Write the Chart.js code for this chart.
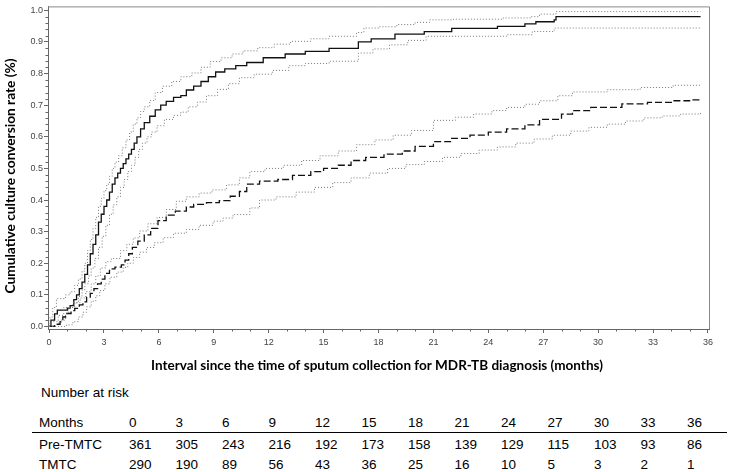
<!DOCTYPE html>
<html>
<head>
<meta charset="utf-8">
<script src="https://cdn.jsdelivr.net/npm/chart.js@4/dist/chart.umd.min.js"></script>
<style>
  html, body { margin: 0; padding: 0; background: #fff; }
  #wrap { position: relative; width: 730px; height: 472px; overflow: hidden; }
  #c { position: absolute; left: 0; top: 0; }
  .t { position: absolute; font-family: "Liberation Sans", Arial, sans-serif; font-size: 13.5px; color: #000; white-space: nowrap; line-height: 1; }
  #rule { position: absolute; left: 32px; width: 695px; top: 432px; height: 0; border-top: 1.5px solid #000; }
</style>
</head>
<body>
<div id="wrap">
  <canvas id="c" width="730" height="375"></canvas>
  <div id="table"></div>
  <div id="rule"></div>
</div>
<script>
// ---------- data ----------
const xTicks = [0, 3, 6, 9, 12, 15, 18, 21, 24, 27, 30, 33, 36];
const yTicks = [0, 0.1, 0.2, 0.3, 0.4, 0.5, 0.6, 0.7, 0.8, 0.9, 1.0];

const preTime = [0,0.1,0.3,0.45,1.0,1.15,1.35,1.5,1.65,1.8,1.95,2.1,2.25,2.4,2.55,2.7,2.85,3.0,3.15,3.3,3.45,3.6,3.75,3.9,4.05,4.2,4.35,4.5,4.65,4.8,5.0,5.2,5.5,5.8,6.1,6.4,6.8,7.2,7.5,7.9,8.3,8.7,9.1,9.6,10.2,10.8,11.7,12.9,14.0,15.3,16.9,17.6,18.9,20.5,22.0,24.5,26.0,26.6,27.6,27.7,35.6];
const preRate = [0,0.02,0.04,0.052,0.058,0.066,0.085,0.1,0.12,0.14,0.165,0.195,0.23,0.26,0.29,0.33,0.355,0.38,0.4,0.425,0.45,0.47,0.485,0.5,0.515,0.53,0.545,0.56,0.58,0.6,0.625,0.645,0.665,0.685,0.7,0.712,0.725,0.73,0.748,0.76,0.775,0.79,0.805,0.815,0.825,0.835,0.85,0.862,0.87,0.88,0.9,0.91,0.925,0.933,0.943,0.949,0.957,0.964,0.97,0.98,0.98];

const preUpTime = [0,0.05,0.2,0.4,0.9,1.15,1.4,1.6,1.8,1.95,2.1,2.25,2.4,2.55,2.7,2.85,3.0,3.15,3.3,3.45,3.6,3.8,4.0,4.2,4.4,4.6,4.8,5.0,5.2,5.5,5.8,6.2,6.7,7.2,7.8,8.3,8.8,9.4,10.0,10.6,11.4,12.3,13.2,14.3,15.3,16.8,17.2,18.0,19.0,20.0,20.8,22.1,24.8,26.3,26.8,27.7,35.6];
const preUpRate = [0,0.03,0.06,0.088,0.1,0.11,0.13,0.15,0.175,0.2,0.24,0.275,0.31,0.345,0.38,0.405,0.43,0.45,0.475,0.5,0.52,0.54,0.565,0.59,0.615,0.64,0.66,0.68,0.695,0.715,0.74,0.76,0.775,0.79,0.802,0.82,0.838,0.85,0.862,0.872,0.882,0.893,0.902,0.91,0.918,0.93,0.944,0.948,0.955,0.962,0.97,0.972,0.976,0.98,0.988,0.996,0.996];

const preLoTime = [0,0.4,0.6,0.9,1.05,1.4,1.6,1.8,1.95,2.15,2.3,2.5,2.7,2.9,3.1,3.3,3.5,3.7,3.9,4.1,4.3,4.5,4.7,4.9,5.1,5.35,5.6,5.9,6.3,6.8,7.2,7.6,8.1,8.6,9.2,9.8,10.4,11.2,12.2,13.1,14.0,15.3,16.9,17.7,18.6,19.6,20.6,22.1,25.0,26.4,27.6,35.6];
const preLoRate = [0,0.01,0.02,0.04,0.06,0.075,0.095,0.115,0.135,0.16,0.185,0.215,0.25,0.285,0.32,0.355,0.385,0.41,0.44,0.465,0.49,0.51,0.535,0.56,0.58,0.6,0.615,0.635,0.655,0.668,0.678,0.695,0.71,0.73,0.75,0.768,0.787,0.798,0.81,0.825,0.832,0.839,0.865,0.878,0.891,0.905,0.918,0.918,0.923,0.933,0.944,0.944];

const tmtcTime = [0,0.3,0.6,0.75,0.9,1.2,1.4,1.65,1.85,2.05,2.25,2.45,2.65,2.85,3.05,3.3,3.6,3.95,4.15,4.35,4.55,4.85,5.2,5.55,5.95,6.4,6.9,7.5,7.9,8.6,9.3,9.9,10.4,10.8,11.5,12.5,13.3,14.3,15.0,15.8,16.5,17.3,18.3,19.3,20.0,21.0,22.0,23.0,24.0,25.0,26.0,26.8,28.0,28.6,29.6,31.3,32.7,34.0,35.0,35.6];
const tmtcRate = [0,0.007,0.015,0.03,0.041,0.05,0.057,0.068,0.078,0.093,0.105,0.12,0.135,0.15,0.168,0.182,0.188,0.195,0.21,0.23,0.25,0.27,0.29,0.31,0.335,0.352,0.365,0.378,0.386,0.392,0.398,0.412,0.427,0.45,0.46,0.465,0.478,0.49,0.5,0.51,0.525,0.535,0.545,0.555,0.57,0.585,0.595,0.605,0.615,0.625,0.638,0.655,0.672,0.683,0.693,0.704,0.709,0.714,0.717,0.717];

const tmtcUpTime = [0,0.1,0.5,0.8,1.3,1.7,2.0,2.3,2.55,2.8,3.1,3.4,3.9,4.25,4.6,4.95,5.4,5.9,6.4,6.95,7.5,8.2,8.9,9.7,10.4,10.97,11.8,12.8,13.8,14.8,15.8,16.8,17.8,18.8,19.8,21.0,22.2,23.2,24.2,25.0,26.0,26.8,27.8,28.6,30.5,32.3,34.1,35.6];
const tmtcUpRate = [0,0.015,0.035,0.06,0.075,0.09,0.11,0.135,0.16,0.185,0.205,0.215,0.24,0.26,0.28,0.302,0.325,0.345,0.37,0.396,0.41,0.422,0.432,0.448,0.47,0.49,0.5,0.51,0.525,0.54,0.555,0.575,0.59,0.605,0.62,0.652,0.662,0.672,0.683,0.693,0.703,0.714,0.73,0.742,0.749,0.756,0.763,0.766];

const tmtcLoTime = [0,0.95,1.3,1.6,1.85,2.05,2.3,2.55,2.77,3.05,3.32,3.7,4.05,4.3,4.6,4.95,5.32,5.75,6.23,6.8,7.5,8.2,8.96,9.5,10.05,10.97,11.5,12.4,13.5,14.5,15.5,16.5,17.5,18.5,19.5,20.5,21.5,22.5,23.5,24.5,25.5,26.5,27.5,28.5,29.5,30.5,31.5,32.5,33.5,34.5,35.6];
const tmtcLoRate = [0,0.005,0.015,0.03,0.045,0.062,0.08,0.097,0.114,0.135,0.156,0.172,0.187,0.2,0.218,0.235,0.25,0.265,0.281,0.295,0.307,0.32,0.333,0.343,0.354,0.375,0.4,0.41,0.425,0.44,0.455,0.47,0.485,0.5,0.512,0.522,0.535,0.547,0.558,0.568,0.58,0.593,0.605,0.618,0.63,0.64,0.65,0.66,0.666,0.672,0.678];

const riskMonths = ["0","3","6","9","12","15","18","21","24","27","30","33","36"];
const riskPre = [361,305,243,216,192,173,158,139,129,115,103,93,86];
const riskTmtc = [290,190,89,56,43,36,25,16,10,5,3,2,1];

const xTitle = "Interval since the time of sputum collection for MDR-TB diagnosis (months)";
const yTitle = "Cumulative culture conversion rate (%)";

// ---------- helpers ----------
function pts(t, v) {
  const n = Math.min(t.length, v.length);
  const out = [];
  for (let i = 0; i < n; i++) out.push({ x: t[i], y: v[i] });
  return out;
}

const AXIS = '#666';
const TITLE_FAMILY = 'Lato, "Open Sans", sans-serif';

function fitFont(ctx, text, targetWidth) {
  ctx.font = 'bold 14px ' + TITLE_FAMILY;
  const w = ctx.measureText(text).width || targetWidth;
  const size = 14 * targetWidth / w;
  return 'bold ' + size.toFixed(2) + 'px ' + TITLE_FAMILY;
}

const framePlugin = {
  id: 'frame',
  afterDraw(chart) {
    const { ctx, chartArea: a, scales } = chart;
    ctx.save();
    // frame (top & right)
    ctx.strokeStyle = '#888';
    ctx.lineWidth = 1;
    ctx.beginPath();
    ctx.moveTo(a.left, a.top + 0.5);
    ctx.lineTo(a.right + 0.5, a.top + 0.5);
    ctx.lineTo(a.right + 0.5, a.bottom);
    ctx.stroke();
    // minor ticks
    ctx.strokeStyle = AXIS;
    ctx.beginPath();
    for (let m = 1; m < 36; m++) {
      if (m % 3 === 0) continue;
      const px = Math.round(scales.x.getPixelForValue(m)) + 0.5;
      ctx.moveTo(px, a.bottom);
      ctx.lineTo(px, a.bottom + 2.5);
    }
    for (let k = 1; k < 50; k++) {
      if (k % 5 === 0) continue;
      const py = Math.round(scales.y.getPixelForValue(k * 0.02)) + 0.5;
      ctx.moveTo(a.left, py);
      ctx.lineTo(a.left - 2.5, py);
    }
    ctx.stroke();
    // axis titles
    ctx.fillStyle = '#000';
    ctx.textAlign = 'center';
    ctx.textBaseline = 'middle';
    ctx.font = fitFont(ctx, xTitle, 452);
    ctx.fillText(xTitle, 377, 366);
    ctx.font = fitFont(ctx, yTitle, 235);
    ctx.translate(11, 176);
    ctx.rotate(-Math.PI / 2);
    ctx.fillText(yTitle, 0, 0);
    ctx.restore();
  }
};

new Chart(document.getElementById('c'), {
  type: 'line',
  data: {
    datasets: [
      { data: pts(preUpTime, preUpRate), borderColor: '#777', borderWidth: 1, borderDash: [1, 2] },
      { data: pts(preLoTime, preLoRate), borderColor: '#777', borderWidth: 1, borderDash: [1, 2] },
      { data: pts(tmtcUpTime, tmtcUpRate), borderColor: '#777', borderWidth: 1, borderDash: [1, 2] },
      { data: pts(tmtcLoTime, tmtcLoRate), borderColor: '#777', borderWidth: 1, borderDash: [1, 2] },
      { data: pts(preTime, preRate), borderColor: '#111', borderWidth: 1.3 },
      { data: pts(tmtcTime, tmtcRate), borderColor: '#111', borderWidth: 1.3, borderDash: [7, 3] }
    ]
  },
  options: {
    responsive: false,
    animation: false,
    devicePixelRatio: 1,
    layout: { padding: { left: 0, top: 3, right: 21, bottom: 0 } },
    elements: { point: { radius: 0 }, line: { stepped: true, fill: false, tension: 0 } },
    plugins: { legend: { display: false }, tooltip: { enabled: false } },
    scales: {
      x: {
        type: 'linear',
        min: -0.06, max: 36.06,
        afterBuildTicks(s) { s.ticks = xTicks.map(v => ({ value: v })); },
        afterFit(s) { s.height = 46; },
        grid: { drawOnChartArea: false, drawTicks: true, tickLength: 4, color: AXIS, tickColor: AXIS },
        border: { display: true, color: AXIS, width: 1 },
        ticks: { font: { family: '"Liberation Sans", Arial, sans-serif', size: 9 }, color: '#444', padding: 4, maxRotation: 0, autoSkip: false, callback: v => String(v) }
      },
      y: {
        type: 'linear',
        min: -0.008, max: 1.0125,
        afterBuildTicks(s) { s.ticks = yTicks.map(v => ({ value: v })); },
        afterFit(s) { s.width = 48; },
        grid: { drawOnChartArea: false, drawTicks: true, tickLength: 4, color: AXIS, tickColor: AXIS },
        border: { display: true, color: AXIS, width: 1 },
        ticks: { font: { family: '"Liberation Sans", Arial, sans-serif', size: 9 }, color: '#444', padding: 1, autoSkip: false, callback: v => Number(v).toFixed(1) }
      }
    }
  },
  plugins: [framePlugin]
});

// ---------- number-at-risk table ----------
(function () {
  const box = document.getElementById('table');
  function put(text, x, y) {
    const d = document.createElement('div');
    d.className = 't';
    d.textContent = text;
    d.style.left = x + 'px';
    d.style.top = (y - 7) + 'px';
    box.appendChild(d);
  }
  put('Number at risk', 41, 393);
  const rows = [['Months', riskMonths, 423], ['Pre-TMTC', riskPre, 445], ['TMTC', riskTmtc, 465]];
  rows.forEach(([label, vals, y]) => {
    put(label, 39, y);
    vals.forEach((v, i) => put(String(v), 129 + i * 46.5, y));
  });
})();
</script>
</body>
</html>
